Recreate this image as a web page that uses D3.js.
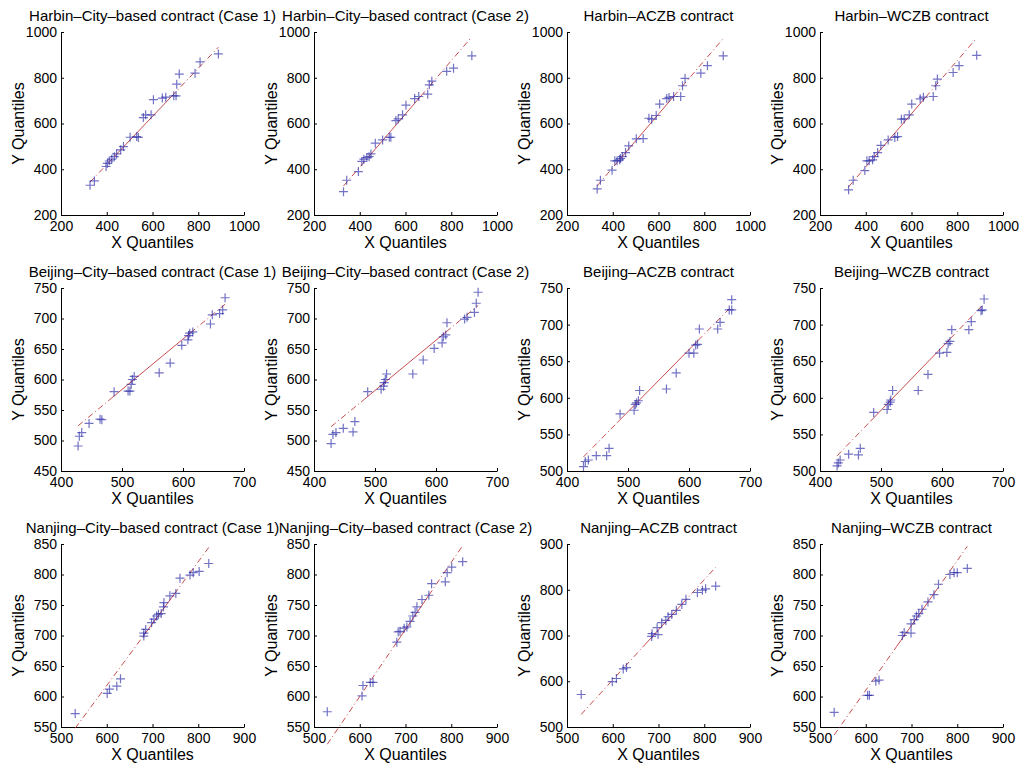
<!DOCTYPE html>
<html lang="en">
<head>
  <meta charset="UTF-8">
  <title>QQ plots</title>
  <script src="https://d3js.org/d3.v7.min.js"></script>
  <style>
    body { margin: 0; background: #fff; }
    text { font-family: "Liberation Sans", Arial, sans-serif; fill: #000; }
    .axis path, .axis line { stroke: #000; stroke-width: 1px; }
    .axis text { font-size: 14px; }
    .title { font-size: 15px; }
    .label { font-size: 16px; }
    .cross { stroke: #1e1ea3; stroke-width: 1.2px; opacity: 0.62; }
    .ref { fill: none; stroke: #c23a3a; stroke-width: 1px; opacity: 0.9; }
  </style>
</head>
<body>
<svg id="chart" width="1024" height="769"></svg>
<script>
  // panel titles, row by row
  const titles = [
    "Harbin–City–based contract (Case 1)", "Harbin–City–based contract (Case 2)",
    "Harbin–ACZB contract", "Harbin–WCZB contract",
    "Beijing–City–based contract (Case 1)", "Beijing–City–based contract (Case 2)",
    "Beijing–ACZB contract", "Beijing–WCZB contract",
    "Nanjing–City–based contract (Case 1)", "Nanjing–City–based contract (Case 2)",
    "Nanjing–ACZB contract", "Nanjing–WCZB contract"
  ];

  // axis ranges and tick steps
  const xDomains = [[200, 1000], [400, 700], [500, 900]];
  const xSteps = [200, 100, 100];
  const yDomains = [
    [200, 1000], [200, 1000], [200, 1000], [200, 1000],
    [450, 750], [450, 750], [500, 750], [500, 750],
    [550, 850], [550, 850], [500, 900], [550, 850]
  ];
  const ySteps = [200, 200, 200, 200, 50, 50, 50, 50, 50, 50, 100, 50];

  // quantile pairs [x, y]
  const harbinCase1 = [[327,330],[346,349],[397,412],[403,426],[411,436],[422,444],[433,455],[443,467],
    [461,485],[473,499],[502,540],[531,543],[538,539],[560,626],[570,638],[594,638],[604,704],
    [643,711],[658,715],[693,721],[703,721],[706,772],[717,816],[786,820],[808,869],[888,904]];
  const harbinCase2 = [[329,302],[343,352],[394,390],[409,434],[418,444],[431,451],[441,455],[449,467],
    [468,514],[500,528],[529,540],[536,540],[558,613],[568,620],[587,638],[602,680],[640,709],
    [658,718],[697,728],[704,769],[715,785],[780,828],[810,842],[890,896]];
  const harbinACZB = [[332,314],[346,352],[397,396],[409,437],[419,437],[430,441],[434,447],[442,455],
    [456,473],[470,502],[503,533],[533,534],[558,623],[570,619],[590,635],[605,685],[636,709],
    [646,714],[666,718],[697,718],[705,765],[716,797],[785,820],[814,853],[883,896]];
  const harbinWCZB = [[325,310],[345,352],[396,394],[405,437],[415,437],[430,441],[437,455],[452,473],
    [466,504],[498,528],[527,539],[539,543],[556,619],[568,620],[590,638],[601,685],[638,708],
    [652,715],[695,718],[706,765],[713,794],[782,823],[808,853],[885,898]];
  const beijingCase1 = [[428,491],[430,507],[434,513],[446,528],[464,535],[467,534],[487,580],[510,581],
    [513,581],[515,592],[517,600],[520,605],[561,611],[579,627],[598,656],[608,665],[609,672],
    [611,676],[616,678],[645,691],[648,706],[660,708],[665,714],[669,734]];
  const beijingCase2 = [[428,495],[431,510],[436,513],[448,520],[464,514],[467,531],[488,580],[510,584],
    [514,589],[515,595],[517,600],[519,609],[562,609],[579,632],[597,651],[610,660],[612,670],
    [616,673],[618,693],[647,699],[651,702],[663,710],[666,725],[669,743]];
  const beijingACZB = [[427,506],[430,513],[435,515],[448,521],[465,521],[469,531],[487,578],[510,583],
    [512,591],[514,593],[517,596],[519,610],[563,612],[579,634],[600,661],[608,661],[611,672],
    [614,673],[617,694],[647,694],[651,703],[666,720],[670,720],[670,734]];
  const beijingWCZB = [[428,507],[430,511],[433,515],[447,523],[463,522],[466,531],[488,580],[510,584],
    [512,591],[515,594],[516,597],[519,610],[561,610],[577,632],[596,661],[608,662],[610,674],
    [613,677],[616,693],[644,693],[648,704],[664,719],[666,720],[669,735]];
  const nanjingCase1 = [[531,572],[601,605],[606,612],[622,617],[630,629],[681,699],[681,704],[685,710],
    [698,721],[703,727],[709,732],[713,735],[719,736],[724,747],[725,754],[738,765],[751,769],
    [760,794],[782,799],[789,803],[802,805],[823,818]];
  const nanjingCase2 = [[529,575],[605,601],[607,618],[623,623],[629,623],[681,689],[684,706],[688,707],
    [697,712],[703,714],[710,723],[716,732],[721,738],[725,747],[736,759],[751,766],[757,785],
    [787,788],[791,803],[801,812],[825,821]];
  const nanjingACZB = [[531,571],[599,599],[608,606],[623,627],[630,630],[685,698],[686,704],[697,717],
    [699,702],[707,728],[716,733],[721,741],[729,746],[739,755],[751,768],[760,779],[785,794],
    [796,799],[803,802],[825,808]];
  const nanjingWCZB = [[531,574],[604,602],[608,602],[622,625],[629,627],[680,700],[684,705],[699,704],
    [699,719],[706,726],[711,732],[716,736],[723,743],[736,755],[749,767],[759,784],[784,800],
    [793,803],[800,803],[822,810]];

  const series = [harbinCase1, harbinCase2, harbinACZB, harbinWCZB,
                  beijingCase1, beijingCase2, beijingACZB, beijingWCZB,
                  nanjingCase1, nanjingCase2, nanjingACZB, nanjingWCZB];

  const svg = d3.select("#chart");
  const colLeft = [61, 314, 567, 820];
  const rowTop = [32, 288, 544];
  const w = 183, h = 183;

  series.forEach((pts, i) => {
    const row = Math.floor(i / 4), col = i % 4;
    const g = svg.append("g")
      .attr("transform", "translate(" + colLeft[col] + "," + rowTop[row] + ")");

    const xd = xDomains[row], yd = yDomains[i];
    const x = d3.scaleLinear().domain(xd).range([0, w]);
    const y = d3.scaleLinear().domain(yd).range([h, 0]);

    g.append("g").attr("class", "axis")
      .attr("transform", "translate(0," + h + ")")
      .call(d3.axisBottom(x).tickValues(d3.range(xd[0], xd[1] + 1, xSteps[row]))
        .tickFormat(d3.format("d"))
        .tickSizeInner(-3).tickSizeOuter(0).tickPadding(4))
      .call(a => a.selectAll("text").attr("dy", "0.85em"));

    g.append("g").attr("class", "axis")
      .call(d3.axisLeft(y).tickValues(d3.range(yd[0], yd[1] + 1, ySteps[i]))
        .tickFormat(d3.format("d"))
        .tickSizeInner(-3).tickSizeOuter(0).tickPadding(4));

    g.selectAll(".axis .domain").attr("fill", "none");
    g.selectAll(".axis text").attr("fill", "#000").attr("stroke", "none");

    // reference line through the 1st and 3rd quartiles (qqplot style)
    const xs = pts.map(d => d[0]).sort(d3.ascending);
    const ys = pts.map(d => d[1]).sort(d3.ascending);
    const q1x = d3.quantile(xs, 0.25), q3x = d3.quantile(xs, 0.75);
    const q1y = d3.quantile(ys, 0.25), q3y = d3.quantile(ys, 0.75);
    const slope = (q3y - q1y) / (q3x - q1x);
    const fit = v => q1y + slope * (v - q1x);
    const minX = xs[0], maxX = xs[xs.length - 1];

    const seg = (a, b) => "M" + x(a) + "," + y(fit(a)) + "L" + x(b) + "," + y(fit(b));
    g.append("path").attr("class", "ref").attr("d", seg(minX, q1x)).attr("stroke-dasharray", "6,3,1,3");
    g.append("path").attr("class", "ref").attr("d", seg(q3x, maxX)).attr("stroke-dasharray", "6,3,1,3");
    g.append("path").attr("class", "ref").attr("d", seg(q1x, q3x));

    // plus markers
    const s = 4.5;
    g.selectAll("path.cross").data(pts).join("path")
      .attr("class", "cross")
      .attr("d", d => {
        const cx = x(d[0]), cy = y(d[1]);
        return "M" + (cx - s) + "," + cy + "H" + (cx + s) + "M" + cx + "," + (cy - s) + "V" + (cy + s);
      });

    g.append("text").attr("class", "title")
      .attr("x", w / 2).attr("y", -11).attr("text-anchor", "middle")
      .text(titles[i]);

    g.append("text").attr("class", "label")
      .attr("x", w / 2).attr("y", h + 33).attr("text-anchor", "middle")
      .text("X Quantiles");

    g.append("text").attr("class", "label")
      .attr("transform", "translate(-37," + (h / 2) + ") rotate(-90)")
      .attr("text-anchor", "middle")
      .text("Y Quantiles");
  });
</script>
</body>
</html>
